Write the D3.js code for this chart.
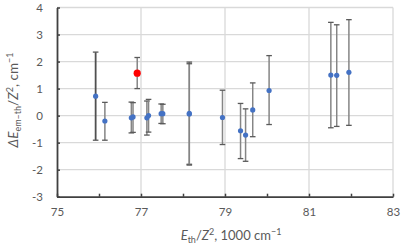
<!DOCTYPE html>
<html>
<head>
<meta charset="utf-8">
<script src="https://cdn.jsdelivr.net/npm/d3@7"></script>
<style>
body { margin: 0; background: #fff; }
svg { display: block; font-family: Lato, "Open Sans", sans-serif; }
</style>
</head>
<body>
<svg id="chart" width="407" height="244"></svg>
<script>
// values
var xVals  = [75.92, 76.14, 76.77, 76.81, 77.14, 77.18, 77.48, 77.52, 78.15, 78.15, 78.94, 79.37, 79.49, 79.66, 80.05, 81.52, 81.66, 81.95];
var yVals  = [0.72, -0.20, -0.08, -0.05, -0.08, 0.00, 0.07, 0.07, 0.06, 0.08, -0.07, -0.56, -0.72, 0.21, 0.93, 1.50, 1.49, 1.60];
var errTop = [2.35, 0.49, 0.50, 0.48, 0.54, 0.60, 0.43, 0.42, 1.98, 1.92, 0.94, 0.45, 0.25, 1.21, 2.22, 3.45, 3.36, 3.55];
var errBot = [-0.91, -0.91, -0.64, -0.62, -0.72, -0.61, -0.29, -0.30, -1.80, -1.83, -1.07, -1.59, -1.69, -0.78, -0.33, -0.45, -0.40, -0.36];
var dark   = [1, 0, 0, 0, 0, 0, 0, 0, 0, 0, 0, 0, 0, 0, 0, 0, 0, 0];

var redPoint = {x: 76.91, y: 1.57, top: 2.15, bot: 1.00};

var xTickLabels = [75, 77, 79, 81, 83];
var yTickLabels = [-3, -2, -1, 0, 1, 2, 3, 4];

function renderChart() {
	var svg = d3.select('#chart');
	var pLeft = 57, pRight = 393, pTop = 7.5, pBottom = 196.7;

	var x = d3.scaleLinear().domain([75, 83]).range([pLeft, pRight]);
	var y = d3.scaleLinear().domain([-3, 4]).range([pBottom, pTop]);

	// grid
	var grid = svg.append('g');
	grid.selectAll('line.h').data(yTickLabels.slice(1)).enter().append('line')
		.attr('x1', pLeft).attr('x2', pRight)
		.attr('y1', function(d) { return y(d); })
		.attr('y2', function(d) { return y(d); })
		.style('stroke', '#d9d9d9').style('stroke-width', '1.3px');
	grid.selectAll('line.v').data([77, 79, 81, 83]).enter().append('line')
		.attr('y1', pTop).attr('y2', pBottom)
		.attr('x1', function(d) { return x(d); })
		.attr('x2', function(d) { return x(d); })
		.style('stroke', '#d9d9d9').style('stroke-width', '1.3px');

	// axes
	var xAxis = d3.axisBottom(x).tickValues(d3.range(75, 84, 1)).tickSizeInner(-3).tickSizeOuter(0)
		.tickFormat(function(d) { return xTickLabels.indexOf(d) >= 0 ? String(d) : ''; });
	var gx = svg.append('g').attr('transform', 'translate(0,' + pBottom + ')').call(xAxis);
	gx.select('.domain').style('stroke', '#404040').style('stroke-width', '1.8px');
	gx.selectAll('.tick line').style('stroke', '#404040').style('stroke-width', '1.5px');
	gx.selectAll('.tick text').attr('y', 11).attr('dy', '0.71em')
		.style('font-size', '11.5px').style('fill', '#595959').style('font-family', 'Lato, sans-serif');

	var yAxis = d3.axisLeft(y).tickValues(yTickLabels).tickSizeInner(-3).tickSizeOuter(0)
		.tickFormat(function(d) { return String(d); });
	var gy = svg.append('g').attr('transform', 'translate(' + pLeft + ',0)').call(yAxis);
	gy.select('.domain').style('stroke', '#404040').style('stroke-width', '1.8px');
	gy.selectAll('.tick line').style('stroke', '#404040').style('stroke-width', '1.5px');
	gy.selectAll('.tick text').attr('x', -14)
		.style('font-size', '11.5px').style('fill', '#595959').style('font-family', 'Lato, sans-serif');

	// error bars
	var pts = xVals.map(function(v, i) {
		return {x: v, y: yVals[i], top: errTop[i], bot: errBot[i], dark: dark[i]};
	});
	var eb = svg.append('g');
	function drawErr(g, d, col, w) {
		g.append('line').attr('x1', x(d.x)).attr('x2', x(d.x))
			.attr('y1', y(d.top)).attr('y2', y(d.bot))
			.style('stroke', col).style('stroke-width', w);
		[d.top, d.bot].forEach(function(v) {
			g.append('line').attr('x1', x(d.x) - 2.8).attr('x2', x(d.x) + 2.8)
				.attr('y1', y(v)).attr('y2', y(v))
				.style('stroke', '#5a5a5a').style('stroke-width', '1.3px');
		});
	}
	pts.forEach(function(d) {
		drawErr(eb, d, d.dark ? '#505050' : '#858585', d.dark ? '1.8px' : '1.5px');
	});
	drawErr(eb, redPoint, '#858585', '1.5px');

	// markers
	svg.append('g').selectAll('circle').data(pts).enter().append('circle')
		.attr('cx', function(d) { return x(d.x); })
		.attr('cy', function(d) { return y(d.y); })
		.attr('r', 2.6)
		.style('fill', '#4472c4');
	svg.append('circle').attr('cx', x(redPoint.x)).attr('cy', y(redPoint.y))
		.attr('r', 3.6).style('fill', '#ff0000');

	// axis titles
	var xt = svg.append('text').attr('x', 231).attr('y', 240)
		.attr('text-anchor', 'middle')
		.style('font-size', '13px').style('fill', '#595959');
	xt.append('tspan').style('font-style', 'italic').text('E');
	xt.append('tspan').attr('dy', 3).style('font-size', '9px').text('th');
	xt.append('tspan').attr('dy', -3).text('/');
	xt.append('tspan').style('font-style', 'italic').text('Z');
	xt.append('tspan').attr('dy', -5).style('font-size', '9px').text('2');
	xt.append('tspan').attr('dy', 5).text(', 1000 cm');
	xt.append('tspan').attr('dy', -5).style('font-size', '9px').text('\u22121');

	var yt = svg.append('text').attr('transform', 'translate(18,100) rotate(-90)')
		.attr('text-anchor', 'middle')
		.style('font-size', '13.5px').style('fill', '#595959');
	yt.append('tspan').style('font-style', 'italic').text('\u0394E');
	yt.append('tspan').attr('dy', 3).style('font-size', '9px').text('em\u2013th');
	yt.append('tspan').attr('dy', -3).text('/');
	yt.append('tspan').style('font-style', 'italic').text('Z');
	yt.append('tspan').attr('dy', -5).style('font-size', '9px').text('2');
	yt.append('tspan').attr('dy', 5).text(', cm');
	yt.append('tspan').attr('dy', -5).style('font-size', '9px').text('\u22121');
}

renderChart();
</script>
</body>
</html>
